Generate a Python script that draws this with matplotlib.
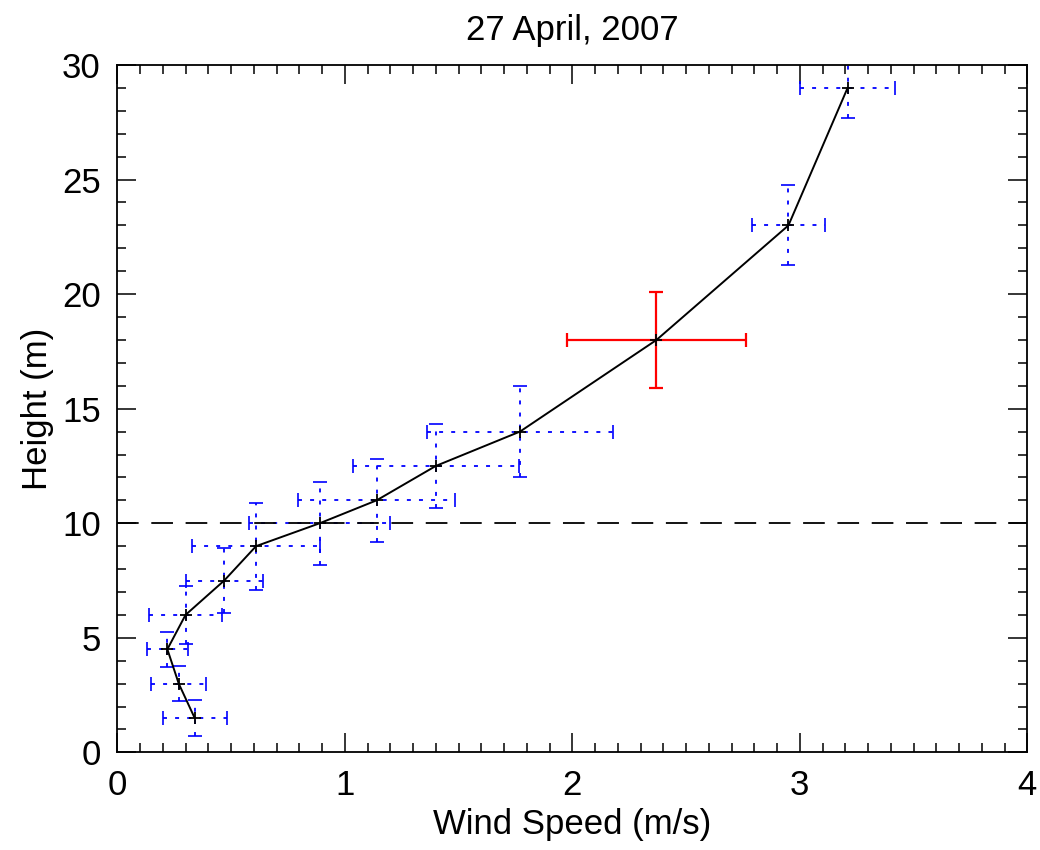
import matplotlib.pyplot as plt
from matplotlib.ticker import MultipleLocator

plt.rcParams['font.family'] = ['Liberation Sans', 'DejaVu Sans']

# wind profile, 27 April 2007
heights = [1.5, 3, 4.5, 6, 7.5, 9, 10, 11, 12.5, 14, 18, 23, 29]
speed = [0.34, 0.27, 0.22, 0.30, 0.47, 0.61, 0.89, 1.14, 1.40, 1.77, 2.37, 2.95, 3.21]
speed_err = [0.14, 0.12, 0.09, 0.16, 0.17, 0.28, 0.31, 0.345, 0.365, 0.41, 0.395, 0.16, 0.21]
height_err = [0.8, 0.75, 0.77, 1.27, 1.4, 1.9, 1.82, 1.82, 1.85, 2.0, 2.1, 1.75, 1.3]
red_idx = 10  # highlighted level (18 m)
ref_height = 10

fig = plt.figure(figsize=(10.4, 8.5), dpi=100)
ax = fig.add_axes([0.1128, 0.1149, 0.875, 0.8086])

blue = [i for i in range(len(heights)) if i != red_idx]
eb = ax.errorbar([speed[i] for i in blue], [heights[i] for i in blue],
                 xerr=[speed_err[i] for i in blue], yerr=[height_err[i] for i in blue],
                 fmt='none', ecolor='blue', elinewidth=1.3, capsize=4.7, capthick=1.2)
for lc in eb[2]:
    lc.set_linestyle((0, (2.2, 4.5)))

ax.errorbar(speed[red_idx], heights[red_idx], xerr=speed_err[red_idx], yerr=height_err[red_idx],
            fmt='none', ecolor='red', elinewidth=1.6, capsize=4.7, capthick=1.6, zorder=3)

ax.plot(speed, heights, color='black', lw=1.4, marker='+', ms=8, mew=1.3, zorder=4)
ax.axhline(ref_height, color='black', lw=1.3, ls=(0, (12, 7)))

ax.set_xlim(0, 4)
ax.set_ylim(0, 30)
ax.xaxis.set_major_locator(MultipleLocator(1))
ax.xaxis.set_minor_locator(MultipleLocator(0.1))
ax.yaxis.set_major_locator(MultipleLocator(5))
ax.yaxis.set_minor_locator(MultipleLocator(1))
ax.tick_params(which='both', direction='in', top=True, right=True, width=1.1, labelsize=25)
ax.tick_params(which='major', length=13.4, pad=12)
ax.tick_params(which='minor', length=6.7)
for s in ax.spines.values():
    s.set_linewidth(1.3)

ax.set_xlabel('Wind Speed (m/s)', fontsize=25, labelpad=4)
ax.set_ylabel('Height (m)', fontsize=25, labelpad=6)
ax.set_title('27 April, 2007', fontsize=25, pad=18)

fig.savefig('out.png', dpi=100)
